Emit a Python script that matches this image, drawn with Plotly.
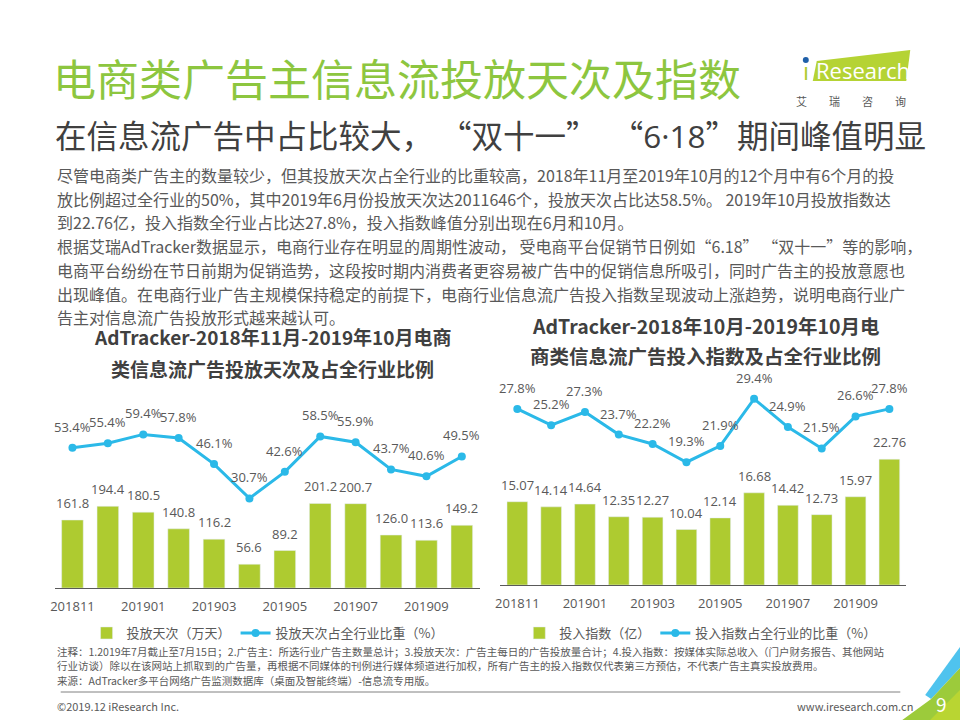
import plotly.graph_objects as go

# ---------------- data ----------------
months = ["201811", "201812", "201901", "201902", "201903", "201904",
          "201905", "201906", "201907", "201908", "201909", "201910"]
tick_months = ["201811", "201901", "201903", "201905", "201907", "201909"]

days_wan = [161.8, 194.4, 180.5, 140.8, 116.2, 56.6, 89.2, 201.2, 200.7, 126.0, 113.6, 149.2]
days_share = [53.4, 55.4, 59.4, 57.8, 46.1, 30.7, 42.6, 58.5, 55.9, 43.7, 40.6, 49.5]

index_yi = [15.07, 14.14, 14.64, 12.35, 12.27, 10.04, 12.14, 16.68, 14.42, 12.73, 15.97, 22.76]
index_share = [27.8, 25.2, 27.3, 23.7, 22.2, 19.3, 21.9, 29.4, 24.9, 21.5, 26.6, 27.8]

title = "电商类广告主信息流投放天次及指数"
subtitle = ("在信息流广告中占比较大， “双十一”  “"
            "<span style=\"font-family:Open Sans\">6·18</span>”期间峰值明显")
paragraph = [
    "尽管电商类广告主的数量较少，但其投放天次占全行业的比重较高，2018年11月至2019年10月的12个月中有6个月的投",
    "放比例超过全行业的50%，其中2019年6月份投放天次达2011646个，投放天次占比达58.5%。 2019年10月投放指数达",
    "到22.76亿，投入指数全行业占比达27.8%，投入指数峰值分别出现在6月和10月。",
    "根据艾瑞AdTracker数据显示，电商行业存在明显的周期性波动， 受电商平台促销节日例如“6.18” “双十一”等的影响，",
    "电商平台纷纷在节日前期为促销造势，这段按时期内消费者更容易被广告中的促销信息所吸引，同时广告主的投放意愿也",
    "出现峰值。在电商行业广告主规模保持稳定的前提下，电商行业信息流广告投入指数呈现波动上涨趋势，说明电商行业广",
    "告主对信息流广告投放形式越来越认可。",
]
left_title = ["AdTracker-2018年11月-2019年10月电商", "类信息流广告投放天次及占全行业比例"]
right_title = ["AdTracker-2018年10月-2019年10月电", "商类信息流广告投入指数及占全行业比例"]
legend_names = ["投放天次（万天）", "投放天次占全行业比重（%）", "投入指数（亿）", "投入指数占全行业的比重（%）"]
notes = [
    "注释：1.2019年7月截止至7月15日；2.广告主：所选行业广告主数量总计；3.投放天次：广告主每日的广告投放量合计；4.投入指数：按媒体实际总收入（门户财务报告、其他网站",
    "行业访谈）除以在该网站上抓取到的广告量，再根据不同媒体的刊例进行媒体频道进行加权，所有广告主的投入指数仅代表第三方预估，不代表广告主真实投放费用。",
    "来源：AdTracker多平台网络广告监测数据库（桌面及智能终端）-信息流专用版。",
]
footer_left = "©2019.12 iResearch Inc."
footer_right = "www.iresearch.com.cn"
page_no = "9"

# ---------------- styles ----------------
GREEN_BAR = "#AECB30"
BLUE = "#2BB9E8"
TITLE_GREEN = "#8DC63F"
GRAY = "#595959"
DARK = "#404040"
CJK = "Noto Sans CJK SC, Open Sans, sans-serif"
NUM = "Open Sans, Noto Sans CJK SC, sans-serif"

W, H = 960, 720


def px(x):
    return x / W


def py(y):
    return 1 - y / H


fig = go.Figure()

fig.add_trace(go.Bar(x=months, y=days_wan, name=legend_names[0], marker_color=GREEN_BAR,
                     xaxis="x", yaxis="y", legend="legend", hoverinfo="skip"))
fig.add_trace(go.Scatter(x=months, y=days_share, name=legend_names[1], mode="lines+markers",
                         line=dict(color=BLUE, width=3), marker=dict(size=8, color=BLUE),
                         xaxis="x", yaxis="y2", legend="legend", hoverinfo="skip"))
fig.add_trace(go.Bar(x=months, y=index_yi, name=legend_names[2], marker_color=GREEN_BAR,
                     xaxis="x2", yaxis="y3", legend="legend2", hoverinfo="skip"))
fig.add_trace(go.Scatter(x=months, y=index_share, name=legend_names[3], mode="lines+markers",
                         line=dict(color=BLUE, width=3), marker=dict(size=8, color=BLUE),
                         xaxis="x2", yaxis="y4", legend="legend2", hoverinfo="skip"))

annotations = []
lab_font = dict(family=NUM, size=13, color=GRAY)
# category axes: annotation x given as category index
for i, v in enumerate(days_wan):
    annotations.append(dict(x=i, y=v, xref="x", yref="y", text=f"{v:.1f}", showarrow=False,
                            yshift=17, font=lab_font))
for i, v in enumerate(days_share):
    annotations.append(dict(x=i, y=v, xref="x", yref="y2", text=f"{v:.1f}%", showarrow=False,
                            yshift=21, font=lab_font))
for i, v in enumerate(index_yi):
    annotations.append(dict(x=i, y=v, xref="x2", yref="y3", text=f"{v:.2f}", showarrow=False,
                            yshift=17, font=lab_font))
for i, v in enumerate(index_share):
    annotations.append(dict(x=i, y=v, xref="x2", yref="y4", text=f"{v:.1f}%", showarrow=False,
                            yshift=21, font=lab_font))

# slide texts
annotations.append(dict(x=px(46), y=py(77), xref="paper", yref="paper", xanchor="left", yanchor="middle",
                        text=title, showarrow=False, font=dict(family=CJK, size=43, color=TITLE_GREEN)))
annotations.append(dict(x=px(48), y=py(134), xref="paper", yref="paper", xanchor="left", yanchor="middle",
                        text=subtitle, showarrow=False, font=dict(family=CJK, size=31.5, color=DARK)))
para_y = [175, 199, 222, 246, 270, 294, 317]
for t, yy in zip(paragraph, para_y):
    annotations.append(dict(x=px(50), y=py(yy), xref="paper", yref="paper", xanchor="left", yanchor="middle",
                            text=t, showarrow=False, font=dict(family=CJK, size=16, color=GRAY)))
for t, yy in zip(left_title, [336, 368]):
    annotations.append(dict(x=px(269), y=py(yy), xref="paper", yref="paper", xanchor="center", yanchor="middle",
                            text=f"<b>{t}</b>", showarrow=False, font=dict(family=CJK, size=19, color=DARK)))
for t, yy in zip(right_title, [326, 355]):
    annotations.append(dict(x=px(704), y=py(yy), xref="paper", yref="paper", xanchor="center", yanchor="middle",
                            text=f"<b>{t}</b>", showarrow=False, font=dict(family=CJK, size=19.5, color=DARK)))
for t, yy in zip(notes, [651, 665, 680]):
    annotations.append(dict(x=px(50), y=py(yy), xref="paper", yref="paper", xanchor="left", yanchor="middle",
                            text=t, showarrow=False, font=dict(family=CJK, size=10.5, color=GRAY)))
annotations.append(dict(x=px(50), y=py(706), xref="paper", yref="paper", xanchor="left", yanchor="middle",
                        text=footer_left, showarrow=False, font=dict(family=CJK, size=11, color=GRAY)))
annotations.append(dict(x=px(915), y=py(706), xref="paper", yref="paper", xanchor="right", yanchor="middle",
                        text=footer_right, showarrow=False, font=dict(family=CJK, size=11, color=GRAY)))
annotations.append(dict(x=px(941), y=py(703), xref="paper", yref="paper", xanchor="center", yanchor="middle",
                        text=page_no, showarrow=False, font=dict(family=CJK, size=19, color="white")))
# logo texts
annotations.append(dict(x=px(862), y=py(70), xref="paper", yref="paper", xanchor="center", yanchor="middle",
                        text="Research", showarrow=False, font=dict(family="Open Sans", size=22, color="white")))
annotations.append(dict(x=px(805), y=py(71), xref="paper", yref="paper", xanchor="center", yanchor="middle",
                        text="ı", showarrow=False, font=dict(family="Open Sans", size=24, color=GREEN_BAR)))
annotations.append(dict(x=px(850), y=py(101), xref="paper", yref="paper", xanchor="center", yanchor="middle",
                        text="艾　　瑞　　咨　　询", showarrow=False, font=dict(family=CJK, size=11, color=GRAY)))

shapes = [
    # logo parallelogram
    dict(type="path", xref="paper", yref="paper",
         path=f"M {px(816)} {py(61)} L {px(910)} {py(50)} L {px(906)} {py(81)} L {px(812)} {py(81)} Z",
         fillcolor="#B5D334", line=dict(width=0), layer="below"),
    dict(type="circle", xref="paper", yref="paper", x0=px(802), x1=px(808), y0=py(63), y1=py(57),
         fillcolor="#1F5FA8", line=dict(width=0)),
    # footer rule
    dict(type="line", xref="paper", yref="paper", x0=px(56), x1=px(900), y0=py(692), y1=py(692),
         line=dict(color="#808080", width=1)),
    # corner decorations
    dict(type="path", xref="paper", yref="paper",
         path=f"M {px(925)} {py(695)} L {px(960)} {py(647)} L {px(960)} {py(668)} L {px(931)} {py(699)} Z",
         fillcolor="#4FC3EE", line=dict(width=0)),
    dict(type="path", xref="paper", yref="paper",
         path=f"M {px(902)} {py(720)} L {px(931)} {py(699)} L {px(960)} {py(668)} L {px(960)} {py(720)} Z",
         fillcolor="#9CCB3B", line=dict(width=0)),
    dict(type="path", xref="paper", yref="paper",
         path=f"M {px(930)} {py(720)} L {px(960)} {py(690)} L {px(960)} {py(720)} Z",
         fillcolor="#B9D532", line=dict(width=0)),
]

axis_common = dict(type="category", categoryorder="array", categoryarray=months, range=[-0.5, 11.5],
                   showline=True, linecolor=GRAY, linewidth=1, showgrid=False,
                   zeroline=False, ticks="", tickmode="array", tickvals=tick_months,
                   tickfont=dict(family=NUM, size=13, color=GRAY), ticklabelstandoff=6,
                   fixedrange=True)

fig.update_layout(
    width=W, height=H, autosize=False,
    margin=dict(l=0, r=0, t=0, b=0),
    paper_bgcolor="white", plot_bgcolor="rgba(0,0,0,0)",
    bargap=0.39,
    xaxis=dict(domain=[px(50), px(477)], anchor="y", **axis_common),
    yaxis=dict(domain=[py(588), py(380)], range=[0, 495], visible=False, fixedrange=True),
    yaxis2=dict(overlaying="y", range=[-9.5, 83.8], visible=False, fixedrange=True, anchor="x"),
    xaxis2=dict(domain=[px(498), px(906)], anchor="y3", **axis_common),
    yaxis3=dict(domain=[py(585), py(375)], range=[0, 38.0], visible=False, fixedrange=True, anchor="x2"),
    yaxis4=dict(overlaying="y3", range=[-0.27, 33.2], visible=False, fixedrange=True, anchor="x2"),
    legend=dict(orientation="h", x=px(82), y=py(633), xanchor="left", yanchor="middle",
                font=dict(family=CJK, size=13, color=GRAY), bgcolor="rgba(0,0,0,0)"),
    legend2=dict(orientation="h", x=px(517), y=py(633), xanchor="left", yanchor="middle",
                 font=dict(family=CJK, size=13, color=GRAY), bgcolor="rgba(0,0,0,0)"),
    annotations=annotations,
    shapes=shapes,
    showlegend=True,
)

fig.write_html("out.html", config={"displayModeBar": False},
               post_script="document.body.style.margin='0';document.body.style.overflow='hidden';")
